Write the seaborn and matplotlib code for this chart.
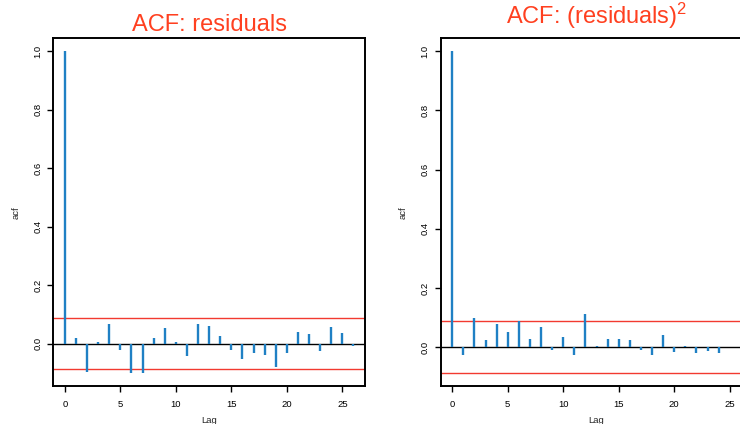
import matplotlib
matplotlib.use("Agg")
import matplotlib.pyplot as plt
import numpy as np
import pandas as pd
import seaborn as sns

# ---- data ----
lags_resid = list(range(27))
acf_resid = [1.0, 0.020, -0.098, 0.005, 0.066, -0.023, -0.101, -0.101, 0.019,
             0.054, 0.007, -0.043, 0.066, 0.061, 0.025, -0.023, -0.054, -0.033,
             -0.039, -0.079, -0.033, 0.039, 0.032, -0.025, 0.058, 0.035, -0.009]
lags_sq = list(range(25))
acf_sq = [1.0, -0.027, 0.099, 0.025, 0.079, 0.050, 0.088, 0.029, 0.069,
          -0.011, 0.035, -0.028, 0.113, 0.005, 0.029, 0.028, 0.023, -0.010,
          -0.025, 0.041, -0.015, 0.005, -0.021, -0.012, -0.018]
ci_resid = 0.0876
ci_sq = 0.0876
titles = ["ACF: residuals", r"ACF: (residuals)$^{\mathrm{2}}$"]
x_ticks = [0, 5, 10, 15, 20, 25]
y_ticks = [0.0, 0.2, 0.4, 0.6, 0.8, 1.0]
x_label = "Lag"
y_label = "acf"

sns.set_theme(style="white")
plt.rcParams["font.family"] = ["Liberation Sans", "DejaVu Sans"]
plt.rcParams["mathtext.fontset"] = "custom"
plt.rcParams["mathtext.rm"] = "Liberation Sans"
plt.rcParams["mathtext.it"] = "Liberation Sans"

fig = plt.figure(figsize=(7.4, 4.24), dpi=100, facecolor="white")
W, H = 740, 424
ax_l = fig.add_axes([53.3 / W, (H - 386) / H, 311.7 / W, 347.7 / H])
ax_r = fig.add_axes([440.7 / W, (H - 386) / H, 311.7 / W, 347.7 / H])

bar_color = "#1F80C4"
ci_color = "#F23A30"
title_color = "#FF4020"

panels = [
    (ax_l, lags_resid, acf_resid, ci_resid),
    (ax_r, lags_sq, acf_sq, ci_sq),
]
for ax, lags, vals, ci in panels:
    df = pd.DataFrame({"lag": lags, "acf": vals})
    ax.vlines(df["lag"], 0, df["acf"], color=bar_color, lw=1.7, zorder=3)
    ax.axhline(0, color="black", lw=1.0, zorder=2)
    ax.axhline(ci, color=ci_color, lw=1.0, zorder=2)
    ax.axhline(-ci, color=ci_color, lw=1.0, zorder=2)
    lo = min(min(vals), -ci)
    hi = 1.0
    pad = 0.04 * (hi - lo)
    ax.set_ylim(lo - pad, hi + pad)
    ax.set_xlim(-1.04, 27.04)
    ax.set_xticks(x_ticks)
    ax.set_yticks(y_ticks)
    ax.set_yticklabels([f"{v:.1f}" for v in y_ticks], rotation=90, va="center")
    ax.set_xticklabels([str(t) for t in x_ticks])
    ax.tick_params(axis="both", direction="out", length=4, width=1.0,
                   labelsize=6.8, colors="black", pad=4,
                   bottom=True, left=True)
    ax.tick_params(axis="x", pad=6)
    ax.set_xlabel(x_label, fontsize=6.8, labelpad=5)
    ax.set_ylabel(y_label, fontsize=6.8, labelpad=9)
    for s in ax.spines.values():
        s.set_color("black")
        s.set_linewidth(1.4)
    ax.grid(False)
    ax.set_facecolor("white")

fig.text(209 / W, 1 - 31 / H, titles[0], ha="center", va="baseline",
         fontsize=17, color=title_color)
fig.text(597 / W, 1 - 24 / H, titles[1], ha="center", va="baseline",
         fontsize=17, color=title_color)

fig.savefig("out.png", dpi=100, facecolor="white")
